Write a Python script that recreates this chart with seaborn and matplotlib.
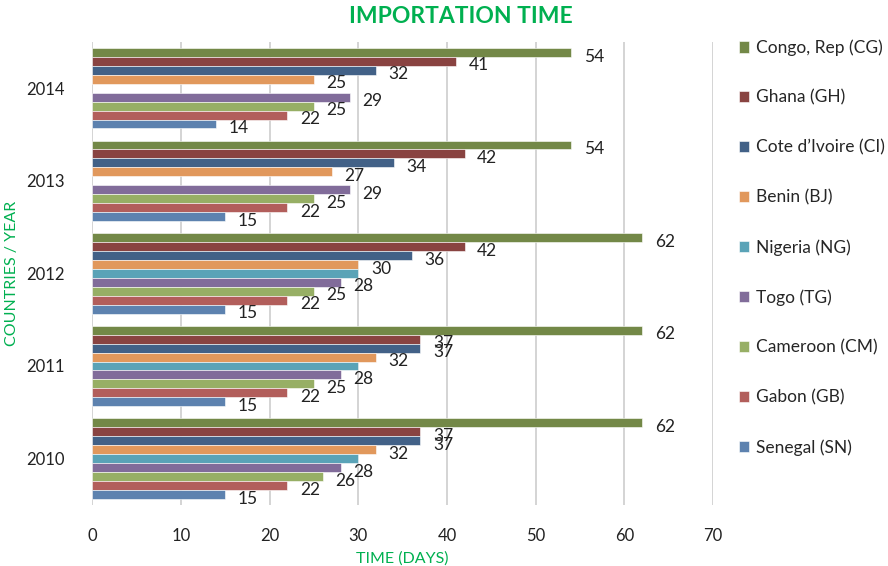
import numpy as np
import pandas as pd
import seaborn as sns
import matplotlib.pyplot as plt

# --- DATEN ---
YEARS = ["2014", "2013", "2012", "2011", "2010"]
COUNTRIES = ["Congo, Rep (CG)", "Ghana (GH)", "Cote d\u2019Ivoire (CI)", "Benin (BJ)",
             "Nigeria (NG)", "Togo (TG)", "Cameroon (CM)", "Gabon (GB)", "Senegal (SN)"]

# Werte je Land, Reihenfolge wie YEARS (2014 ... 2010)
CG = [54, 54, 62, 62, 62]
GH = [41, 42, 42, 37, 37]
CI = [32, 34, 36, 37, 37]
BJ = [25, 27, 30, 32, 32]
NG = [np.nan, np.nan, 30, 30, 30]
TG = [29, 29, 28, 28, 28]
CM = [25, 25, 25, 25, 26]
GB = [22, 22, 22, 22, 22]
SN = [14, 15, 15, 15, 15]

COLORS = ["#77933C", "#953735", "#376092", "#F79646", "#4BACC6",
          "#8064A2", "#9BBB59", "#C0504D", "#4F81BD"]
GREEN = "#00B050"

series = [CG, GH, CI, BJ, NG, TG, CM, GB, SN]
rows = []
for country, vals in zip(COUNTRIES, series):
    for year, v in zip(YEARS, vals):
        rows.append({"Year": year, "Country": country, "Days": v})
df = pd.DataFrame(rows)

sns.set_theme(style="white")
plt.rcParams["font.family"] = ["Lato", "DejaVu Sans"]

fig = plt.figure(figsize=(8.88, 5.66), dpi=100)
ax = fig.add_axes([0.104, 0.108, 0.699, 0.818])

sns.barplot(data=df, y="Year", x="Days", hue="Country", order=YEARS,
            hue_order=COUNTRIES, palette=COLORS, orient="h", width=0.87,
            errorbar=None, ax=ax, edgecolor="white", linewidth=0.4)

# Datenbeschriftungen (Nigeria ohne Label), leicht unter der Balkenmitte
for cont, country in zip(ax.containers, COUNTRIES):
    if country.startswith("Nigeria"):
        continue
    for bar, v in zip(cont, cont.datavalues):
        if np.isnan(v):
            continue
        yc = bar.get_y() + bar.get_height() / 2
        ax.annotate(f"{int(v)}", (v, yc), xytext=(9, -3), textcoords="offset points",
                    ha="left", va="center", fontsize=12.5, color="#222222")

ax.set_xlim(0, 70)
ax.set_xticks(range(0, 80, 10))
ax.xaxis.grid(True, color="#D4D4D4", linewidth=1.4)
ax.set_axisbelow(True)
for s in ax.spines.values():
    s.set_visible(False)
ax.tick_params(axis="x", length=0, pad=17, labelsize=12, colors="#222222")
ax.tick_params(axis="y", length=0, pad=20, labelsize=12, colors="#222222")

ax.set_xlabel("TIME (DAYS)", color=GREEN, fontsize=11.5, labelpad=5)
ax.set_ylabel("COUNTRIES / YEAR", color=GREEN, fontsize=11.5)
ax.yaxis.set_label_coords(-0.118, 0.5)
fig.suptitle("IMPORTATION TIME", x=0.519, y=0.99, color=GREEN,
             fontsize=16.5, fontweight="bold")

ax.legend(title=None, frameon=False, loc="upper left", bbox_to_anchor=(1.03, 1.02),
          fontsize=12.5, labelspacing=1.94, handlelength=0.6, handleheight=0.6,
          handletextpad=0.4, borderaxespad=0)

fig.savefig("out.png", dpi=100)
